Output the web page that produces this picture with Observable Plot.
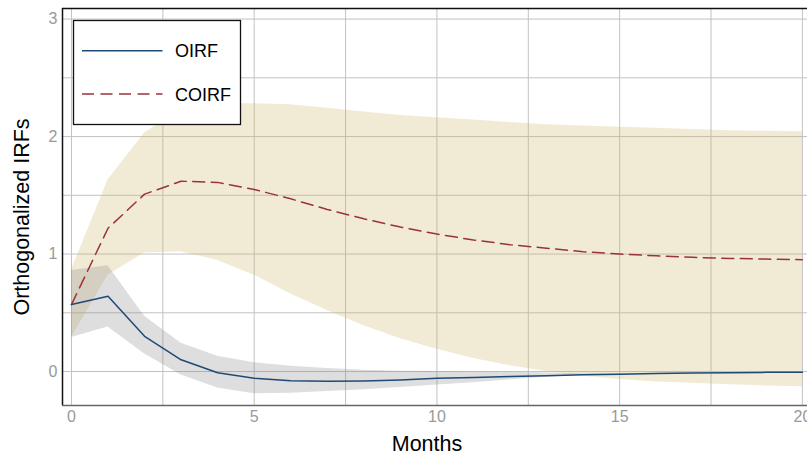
<!DOCTYPE html>
<html>
<head>
<meta charset="utf-8">
<script src="https://cdn.jsdelivr.net/npm/d3@7"></script>
<script src="https://cdn.jsdelivr.net/npm/@observablehq/plot@0.6"></script>
<style>
  html, body { margin: 0; padding: 0; background: #fff; overflow: hidden; }
  #wrap { position: relative; width: 807px; height: 455px; }
  #legend { position: absolute; left: 0; top: 0; }
</style>
</head>
<body>
<div id="wrap"></div>
<script>
const months = [0,1,2,3,4,5,6,7,8,9,10,11,12,13,14,15,16,17,18,19,20];
const oirf   = [0.57,0.64,0.30,0.10,-0.01,-0.058,-0.078,-0.083,-0.08,-0.072,-0.058,-0.05,-0.042,-0.035,-0.028,-0.022,-0.017,-0.013,-0.01,-0.007,-0.005];
const oirfLo = [0.29,0.38,0.15,-0.03,-0.14,-0.19,-0.185,-0.17,-0.155,-0.135,-0.115,-0.095,-0.07,-0.048,-0.032,-0.025,-0.019,-0.015,-0.011,-0.008,-0.006];
const oirfHi = [0.86,0.90,0.47,0.24,0.13,0.075,0.045,0.025,0.01,0.003,0.0,-0.003,-0.007,-0.012,-0.02,-0.019,-0.015,-0.011,-0.009,-0.006,-0.004];
const coirf   = [0.57,1.22,1.51,1.62,1.61,1.55,1.47,1.38,1.30,1.23,1.17,1.12,1.08,1.05,1.02,1.00,0.985,0.972,0.963,0.957,0.952];
const coirfLo = [0.29,0.82,1.01,1.02,0.945,0.82,0.66,0.52,0.39,0.28,0.19,0.11,0.05,0.0,-0.04,-0.068,-0.088,-0.10,-0.112,-0.122,-0.13];
const coirfHi = [0.865,1.63,2.03,2.23,2.28,2.28,2.27,2.24,2.21,2.18,2.16,2.14,2.12,2.10,2.09,2.08,2.07,2.06,2.05,2.045,2.04];

const xTicks = [0,5,10,15,20];
const yTicks = [0,1,2,3];
const xGrid = [0,2.5,5,7.5,10,12.5,15,17.5,20];
const yGrid = [0,0.5,1,1.5,2,2.5,3];
const xDomain = [-0.246, 20.14];
const yDomain = [-0.289, 3.09];
const seriesNames = ["OIRF", "COIRF"];

const rows = months.map((m, i) => ({
  m, oirf: oirf[i], oirfLo: oirfLo[i], oirfHi: oirfHi[i],
  coirf: coirf[i], coirfLo: coirfLo[i], coirfHi: coirfHi[i]
}));

const font = "'Liberation Sans', Arial, Helvetica, sans-serif";
const blue = "#1f4a78";
const red = "#9a3338";

const chart = Plot.plot({
  width: 807,
  height: 455,
  marginLeft: 62,
  marginRight: 0,
  marginTop: 8,
  marginBottom: 50,
  style: { fontFamily: font, background: "#fff", overflow: "visible" },
  x: { domain: xDomain },
  y: { domain: yDomain },
  marks: [
    Plot.gridX(xGrid, { stroke: "#c2c2c2", strokeOpacity: 1, strokeWidth: 1 }),
    Plot.gridY(yGrid, { stroke: "#c2c2c2", strokeOpacity: 1, strokeWidth: 1 }),
    Plot.areaY(rows, { x: "m", y1: "coirfLo", y2: "coirfHi", fill: "#cdb86c", fillOpacity: 0.28 }),
    Plot.areaY(rows, { x: "m", y1: "oirfLo", y2: "oirfHi", fill: "#8a8a8a", fillOpacity: 0.28 }),
    Plot.lineY(rows, { x: "m", y: "coirf", stroke: red, strokeWidth: 1.5, strokeDasharray: "12,6.5" }),
    Plot.lineY(rows, { x: "m", y: "oirf", stroke: blue, strokeWidth: 1.5 }),
    Plot.ruleX([xDomain[0]], { stroke: "#111", strokeWidth: 1.5 }),
    Plot.ruleY([yDomain[1]], { stroke: "#111", strokeWidth: 1.5 }),
    Plot.ruleY([yDomain[0]], { stroke: "#666", strokeWidth: 1.5 }),
    Plot.axisX({ ticks: xTicks, tickSize: 0, tickPadding: 5.5, label: null, fontSize: 16, color: "#999", tickFormat: d => String(d) }),
    Plot.axisY({ ticks: yTicks, tickSize: 0, tickPadding: 5, label: null, fontSize: 16, color: "#999", tickFormat: d => String(d) }),
    Plot.text(["Months"], { frameAnchor: "bottom", textAnchor: "middle", lineAnchor: "middle", dx: -8, dy: 39, fontSize: 21.5, fill: "#000" }),
    Plot.text(["Orthogonalized IRFs"], { frameAnchor: "left", textAnchor: "middle", lineAnchor: "middle", rotate: -90, dx: -40, dy: 10, fontSize: 21.5, fill: "#000" })
  ]
});

const wrap = document.getElementById("wrap");
wrap.appendChild(chart);

// Legend overlay
const ns = "http://www.w3.org/2000/svg";
const leg = document.createElementNS(ns, "svg");
leg.setAttribute("id", "legend");
leg.setAttribute("width", 260);
leg.setAttribute("height", 140);
leg.style.fontFamily = font;
const rect = document.createElementNS(ns, "rect");
rect.setAttribute("x", 73.5); rect.setAttribute("y", 20.5);
rect.setAttribute("width", 167); rect.setAttribute("height", 104);
rect.setAttribute("fill", "#fff"); rect.setAttribute("stroke", "#111"); rect.setAttribute("stroke-width", 1.3);
leg.appendChild(rect);
const items = [
  { name: seriesNames[0], color: blue, dash: null, y: 50.7 },
  { name: seriesNames[1], color: red, dash: "12,6.5", y: 94 }
];
for (const it of items) {
  const ln = document.createElementNS(ns, "line");
  ln.setAttribute("x1", 82); ln.setAttribute("x2", 162.5);
  ln.setAttribute("y1", it.y); ln.setAttribute("y2", it.y);
  ln.setAttribute("stroke", it.color); ln.setAttribute("stroke-width", 1.6);
  if (it.dash) ln.setAttribute("stroke-dasharray", it.dash);
  leg.appendChild(ln);
  const tx = document.createElementNS(ns, "text");
  tx.setAttribute("x", 175); tx.setAttribute("y", it.y + 6.7);
  tx.setAttribute("font-size", 18); tx.setAttribute("fill", "#000");
  tx.textContent = it.name;
  leg.appendChild(tx);
}
wrap.appendChild(leg);
</script>
</body>
</html>
